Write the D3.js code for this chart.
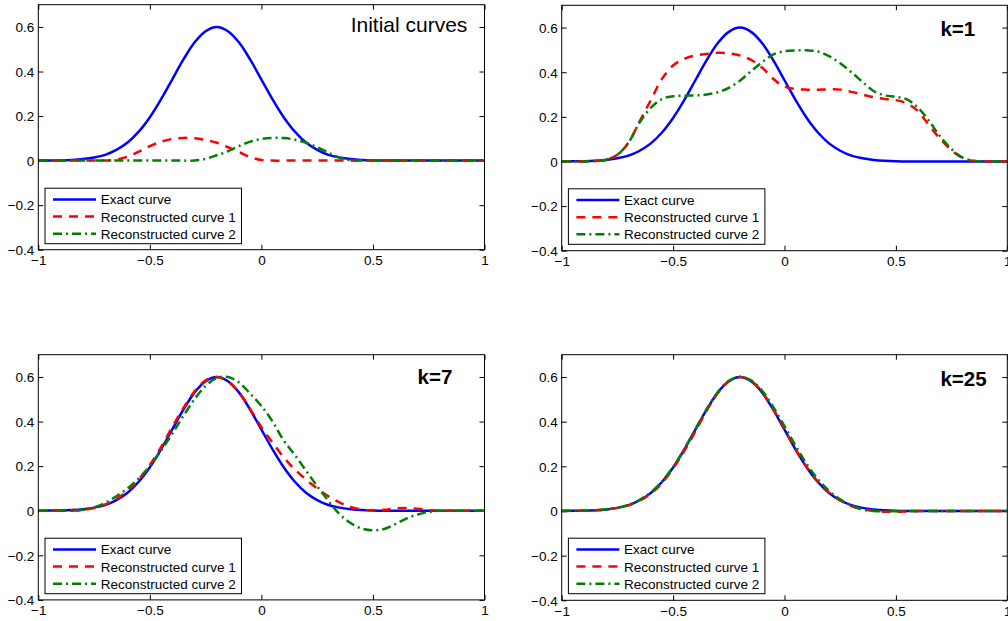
<!DOCTYPE html>
<html>
<head>
<meta charset="utf-8">
<script src="https://cdn.jsdelivr.net/npm/d3@7/dist/d3.min.js"></script>
<style>
  html, body { margin: 0; padding: 0; background: #fff; }
  svg { display: block; }
  text { font-family: "Liberation Sans", Arial, Helvetica, sans-serif; fill: #000; }
</style>
</head>
<body>
<svg id="chart" width="1008" height="621"></svg>
<script>
// ---------------- data ----------------
const xs = [-1,-0.95,-0.9,-0.85,-0.8,-0.75,-0.7,-0.65,-0.6,-0.55,-0.5,-0.45,-0.4,-0.35,-0.3,-0.25,-0.2,-0.15,-0.1,-0.05,0,0.05,0.1,0.15,0.2,0.25,0.3,0.35,0.4,0.45,0.5,0.55,0.6,0.65,0.7,0.75,0.8,0.85,0.9,0.95,1];

const exactCurve = [0,0.001,0.001,0.003,0.007,0.014,0.026,0.048,0.081,0.130,0.195,0.275,0.364,0.453,0.530,0.581,0.600,0.581,0.530,0.453,0.364,0.275,0.195,0.130,0.081,0.048,0.026,0.014,0.007,0.003,0.001,0,0,0,0,0,0,0,0,0,0];

const recon1Initial = [0,0,0,0,0,0,0,0.005,0.018,0.04,0.065,0.085,0.097,0.102,0.1,0.093,0.08,0.06,0.038,0.016,0.003,0,0,0,0,0,0,0,0,0,0,0,0,0,0,0,0,0,0,0,0];
const recon2Initial = [0,0,0,0,0,0,0,0,0,0,0,0,0,0,0,0.008,0.024,0.042,0.066,0.085,0.097,0.102,0.101,0.094,0.08,0.06,0.036,0.014,0.002,0,0,0,0,0,0,0,0,0,0,0,0];

const recon1K1 = [0,0,0,0.002,0.008,0.03,0.085,0.18,0.275,0.37,0.43,0.46,0.475,0.482,0.487,0.485,0.475,0.455,0.42,0.37,0.335,0.325,0.322,0.322,0.323,0.322,0.312,0.3,0.288,0.28,0.275,0.26,0.225,0.16,0.1,0.05,0.015,0.002,0,0,0];
const recon2K1 = [0,0,0,0.002,0.008,0.03,0.085,0.175,0.24,0.28,0.292,0.295,0.296,0.3,0.31,0.33,0.362,0.405,0.445,0.48,0.494,0.498,0.498,0.493,0.472,0.44,0.4,0.357,0.316,0.296,0.29,0.278,0.24,0.18,0.11,0.055,0.017,0.003,0,0,0];

const recon1K7 = [0,0,0,0,0.004,0.012,0.028,0.052,0.09,0.14,0.205,0.285,0.375,0.46,0.535,0.585,0.6,0.58,0.53,0.455,0.375,0.305,0.24,0.185,0.14,0.1,0.065,0.037,0.017,0.005,0.001,0.004,0.01,0.012,0.009,0.003,0,0,0,0,0];
const recon2K7 = [0,0,0,0,0.004,0.015,0.035,0.065,0.1,0.145,0.2,0.27,0.345,0.425,0.5,0.56,0.595,0.6,0.575,0.525,0.47,0.4,0.315,0.25,0.18,0.11,0.045,-0.015,-0.055,-0.08,-0.088,-0.082,-0.06,-0.035,-0.017,-0.005,0,0,0,0,0];

const recon1K25 = [0,0.001,0.001,0.003,0.007,0.014,0.025,0.046,0.078,0.125,0.19,0.268,0.357,0.448,0.527,0.58,0.6,0.583,0.533,0.455,0.366,0.276,0.196,0.13,0.082,0.047,0.022,0.008,0.001,-0.003,-0.004,-0.002,0,0,0,0,0,0,0,0,0];
const recon2K25 = [0,0.001,0.001,0.003,0.007,0.014,0.027,0.05,0.083,0.132,0.197,0.277,0.366,0.455,0.532,0.583,0.6,0.585,0.538,0.465,0.38,0.292,0.21,0.142,0.09,0.052,0.024,0.007,0,-0.002,-0.001,0,0,0,0,0,0,0,0,0,0];

const panelTitles = ["Initial curves", "k=1", "k=7", "k=25"];
const titleX = [0.4, 0.7, 0.7, 0.7];
const titleY = [0.6, 0.6, 0.6, 0.6];
const seriesNames = ["Exact curve", "Reconstructed curve 1", "Reconstructed curve 2"];

const xTicks = [-1, -0.5, 0, 0.5, 1];
const xTickLabels = ["\u22121", "\u22120.5", "0", "0.5", "1"];
const yTicks = [-0.4, -0.2, 0, 0.2, 0.4, 0.6];
const yTickLabels = ["\u22120.4", "\u22120.2", "0", "0.2", "0.4", "0.6"];
const xDomain = [-1, 1];
const yDomain = [-0.4, 0.7];

// ---------------- layout / style ----------------
const panels = [
  { left: 38.3,  top: 4.7,   w: 446.2, h: 245.0, r1: recon1Initial, r2: recon2Initial, bold: false, size: 21,   base: 5.5 },
  { left: 561.7, top: 5.3,   w: 445.6, h: 245.4, r1: recon1K1,      r2: recon2K1,      bold: true,  size: 20.5, base: 8.0 },
  { left: 38.3,  top: 354.7, w: 446.2, h: 245.2, r1: recon1K7,      r2: recon2K7,      bold: true,  size: 20.5, base: 7.5 },
  { left: 561.7, top: 354.7, w: 445.6, h: 245.6, r1: recon1K25,     r2: recon2K25,     bold: true,  size: 20.5, base: 8.5 }
];
const styles = [
  { color: "#0000ff", dash: null,       width: 2.5 },
  { color: "#ff0000", dash: "9,7",      width: 2.5 },
  { color: "#008000", dash: "9,4,2,4",  width: 2.5 }
];
const fontSize = 13.5;

const svg = d3.select("#chart");

panels.forEach((p, pi) => {
  const g = svg.append("g").attr("transform", `translate(${p.left},${p.top})`);
  const x = d3.scaleLinear().domain(xDomain).range([0, p.w]);
  const y = d3.scaleLinear().domain(yDomain).range([p.h, 0]);

  const clipId = "clip" + pi;
  g.append("clipPath").attr("id", clipId)
    .append("rect").attr("x", 0).attr("y", 0).attr("width", p.w).attr("height", p.h);

  // axes (inward ticks on all four sides)
  const axB = g.append("g").attr("transform", `translate(0,${p.h})`)
    .call(d3.axisBottom(x).tickValues(xTicks).tickSize(-5).tickPadding(6)
      .tickFormat((d, i) => xTickLabels[i]));
  const axT = g.append("g")
    .call(d3.axisTop(x).tickValues(xTicks).tickSize(-5).tickFormat(""));
  const axL = g.append("g")
    .call(d3.axisLeft(y).tickValues(yTicks).tickSize(-5).tickPadding(4)
      .tickFormat((d, i) => yTickLabels[i]));
  const axR = g.append("g").attr("transform", `translate(${p.w},0)`)
    .call(d3.axisRight(y).tickValues(yTicks).tickSize(-5).tickFormat(""));
  [axB, axT, axL, axR].forEach(a => {
    a.select(".domain").remove();
    a.selectAll(".tick line").attr("stroke", "#000").attr("stroke-width", 1);
    a.selectAll("text").attr("font-size", fontSize)
      .attr("font-family", '"Liberation Sans", Arial, Helvetica, sans-serif').attr("fill", "#000");
  });
  axB.selectAll(".tick text").attr("dy", null).attr("y", 15.5);
  axL.selectAll(".tick text").attr("dy", null).attr("y", 4.8);

  // curves
  const line = d3.line()
    .x((d, i) => x(xs[i]))
    .y(d => y(d))
    .curve(d3.curveCatmullRom.alpha(0.5));
  const series = [exactCurve, p.r1, p.r2];
  const plot = g.append("g").attr("clip-path", `url(#${clipId})`);
  series.forEach((s, si) => {
    plot.append("path")
      .attr("d", line(s))
      .attr("fill", "none")
      .attr("stroke", styles[si].color)
      .attr("stroke-width", styles[si].width)
      .attr("stroke-dasharray", styles[si].dash);
  });

  // frame
  g.append("rect").attr("x", 0).attr("y", 0).attr("width", p.w).attr("height", p.h)
    .attr("fill", "none").attr("stroke", "#000").attr("stroke-width", 1);

  // title text
  g.append("text")
    .attr("x", x(titleX[pi]))
    .attr("y", y(titleY[pi]) + p.base)
    .attr("font-size", p.size)
    .attr("font-weight", p.bold ? "bold" : "normal")
    .text(panelTitles[pi]);

  // legend
  const lg = g.append("g").attr("transform", "translate(6.7,183.5)");
  lg.append("rect").attr("x", 0).attr("y", 0).attr("width", 196.5).attr("height", 55.5)
    .attr("fill", "#fff").attr("stroke", "#000").attr("stroke-width", 1);
  seriesNames.forEach((name, si) => {
    const cy = 11.3 + si * 17.1;
    lg.append("line").attr("x1", 8).attr("x2", 51).attr("y1", cy).attr("y2", cy)
      .attr("stroke", styles[si].color).attr("stroke-width", styles[si].width)
      .attr("stroke-dasharray", styles[si].dash);
    lg.append("text").attr("x", 55.7).attr("y", cy + 5)
      .attr("font-size", fontSize).text(name);
  });
});
</script>
</body>
</html>
